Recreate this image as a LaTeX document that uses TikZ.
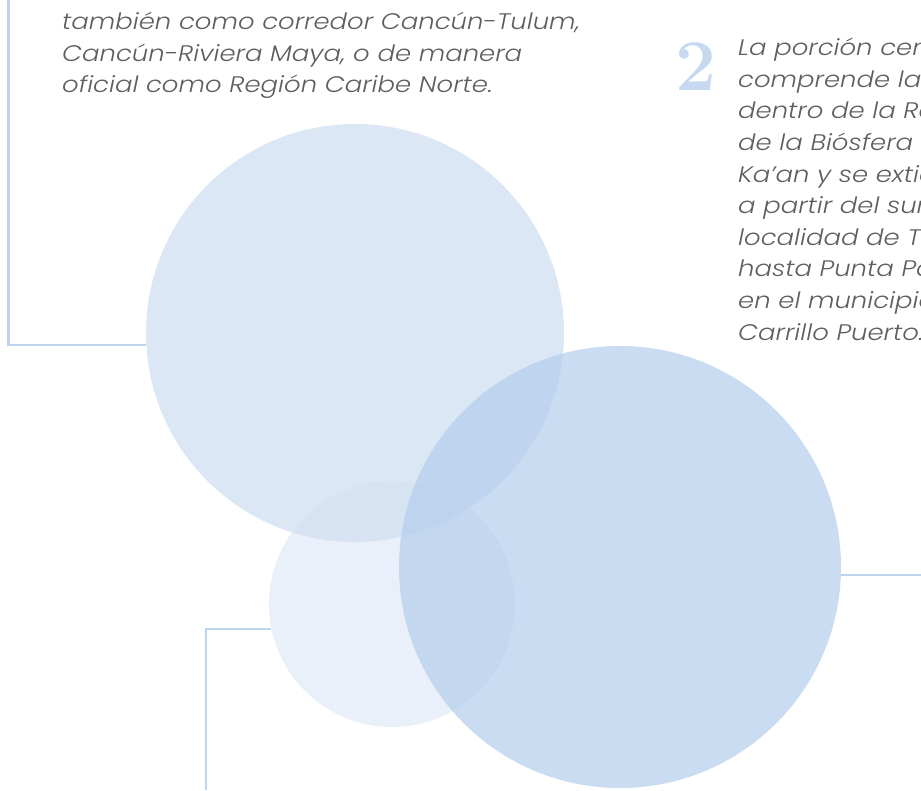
\documentclass[tikz,border=0pt]{standalone}
\usepackage{fontspec}
\setmainfont{Poppins}
\newfontfamily\bodyfont{Poppins}[ItalicFont={Poppins Light Italic},FakeStretch=1.152]
\definecolor{txt}{HTML}{5E5E5E}
\definecolor{lineblue}{HTML}{BDD4EE}
\definecolor{numblue}{HTML}{C6D9F1}
\definecolor{cA}{RGB}{220,231,245}
\definecolor{cB}{RGB}{211,225,243}
\definecolor{cC}{RGB}{182,208,237}
\begin{document}
\begin{tikzpicture}[x=1pt,y=-1pt,
  connector/.style={draw=lineblue,line width=2.8pt},
  bubble/.style={circle,inner sep=0pt,draw=none},
  para/.style={text=txt,font=\bodyfont\fontsize{22.5}{31.6}\selectfont\itshape,align=left,inner sep=0pt,anchor=north west}]
\useasboundingbox (0,0) rectangle (921,790);
\clip (0,0) rectangle (921,790);
% circles
\node[bubble,fill=cA,minimum size=418pt] (c1) at (355,333) {};
\node[bubble,fill=cB,fill opacity=0.5,minimum size=246pt] (c2) at (392,604) {};
\node[bubble,fill=cC,fill opacity=0.74,minimum size=442pt] (c3) at (620,567) {};
% connectors
\coordinate (a0) at (8.5,0);
\coordinate (a1) at (8.5,345);
\draw[connector] (a0) -- (a1) -- (a1 -| c1.183.3);
\coordinate (b0) at (206,790);
\coordinate (b1) at (206,629);
\draw[connector] (b0) -- (b1) -- (b1 -| c2.191.7);
\coordinate (r0) at (921,575);
\draw[connector] (r0 -| c3.357.9) -- (r0);
% texts
\node[para] (t1) at (62,12) {también como corredor Cancún-Tulum,\\Cancún-Riviera Maya, o de manera\\oficial como Región Caribe Norte.};
\node[text=numblue,font=\fontsize{73}{73}\selectfont\rmfamily\bfseries,inner sep=0pt,anchor=base west] (n2) at (675,90) {\fontspec{Latin Modern Roman}2};
\node[para] (t2) at (738,38) {La porción centro\\comprende la zona\\dentro de la Reserva\\de la Biósfera de Sian\\Ka’an y se extiende\\a partir del sur de la\\localidad de Tulum\\hasta Punta Pájaros\\en el municipio de Felipe\\Carrillo Puerto.};
\end{tikzpicture}
\end{document}
